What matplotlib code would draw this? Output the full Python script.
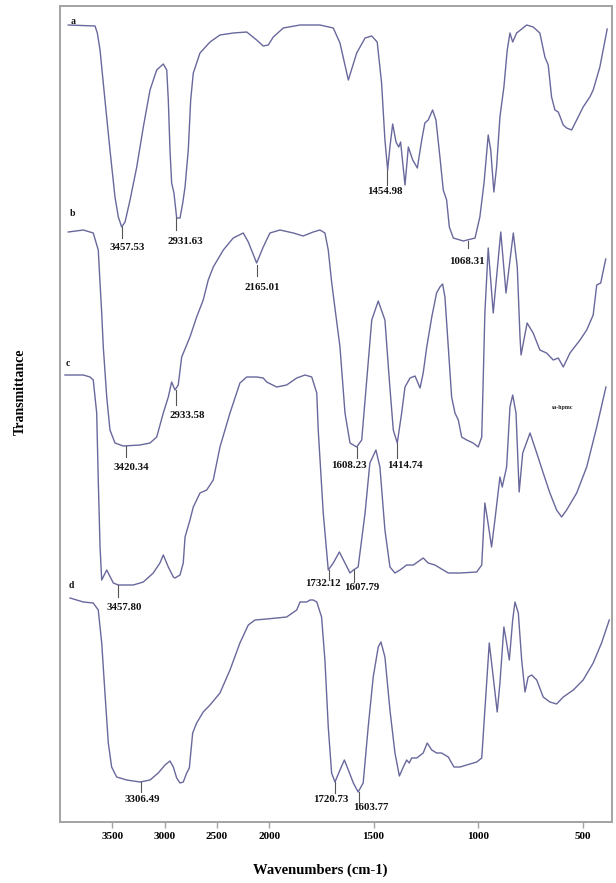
import numpy as np
import matplotlib
matplotlib.use("Agg")
import matplotlib.pyplot as plt

# ---------------- data (wavenumber cm-1, transmittance a.u.) ----------------
a_wn = [3921, 3665, 3643, 3617, 3570, 3522, 3474, 3442, 3410, 3378, 3330, 3266, 3203, 3139, 3075,
        3012, 2979, 2964, 2948, 2932, 2910, 2884, 2852, 2826, 2804, 2773, 2750, 2725, 2661, 2565,
        2470, 2343, 2214, 2119, 2056, 2008, 1980, 1932, 1852, 1757, 1693, 1661, 1621, 1581, 1541,
        1509, 1483, 1462, 1446, 1433, 1422, 1409, 1393, 1380, 1371, 1350, 1334, 1313, 1291, 1270,
        1255, 1239, 1218, 1202, 1183, 1167, 1151, 1138, 1119, 1071, 1015, 992, 972, 952, 940,
        925, 912, 896, 877, 861, 848, 835, 816, 768, 737, 705, 681, 665, 649, 633,
        617, 593, 577, 553, 529, 498, 466, 450, 418, 383]
a_t = [797, 796, 789, 772, 722, 672, 625, 605, 595, 600, 622, 655, 695, 732, 752,
       758, 752, 722, 672, 639, 629, 604, 604, 619, 635, 672, 722, 749, 769, 780,
       787, 789, 790, 782, 776, 777, 785, 794, 797, 797, 794, 779, 742, 769, 784,
       786, 780, 739, 682, 652, 675, 698, 680, 675, 680, 637, 675, 662, 654, 682,
       699, 702, 712, 702, 665, 632, 622, 595, 584, 581, 584, 605, 639, 687, 672,
       630, 655, 705, 735, 772, 789, 780, 789, 797, 795, 789, 765, 757, 725, 712,
       710, 697, 694, 692, 702, 715, 725, 732, 755, 793]

b_wn = [3921, 3777, 3682, 3634, 3617, 3601, 3586, 3553, 3522, 3474, 3395, 3235, 3139, 3075, 3012,
        2964, 2932, 2900, 2869, 2836, 2757, 2693, 2630, 2582, 2534, 2438, 2343, 2247, 2199, 2119,
        2056, 1996, 1948, 1884, 1837, 1789, 1757, 1733, 1717, 1702, 1690, 1661, 1637, 1613, 1581,
        1557, 1533, 1509, 1478, 1446, 1425, 1406, 1387, 1366, 1350, 1326, 1302, 1278, 1263, 1246,
        1222, 1199, 1183, 1170, 1159, 1143, 1127, 1111, 1095, 1079, 1055, 1024, 1000, 983, 976,
        968, 952, 928, 892, 867, 832, 813, 800, 795, 766, 737, 705, 673, 641, 617,
        593, 561, 513, 481, 450, 433, 414, 390]
b_t = [590, 592, 589, 572, 539, 509, 475, 425, 392, 379, 376, 377, 379, 385, 409,
       425, 440, 432, 437, 465, 485, 505, 522, 542, 555, 572, 584, 589, 580, 559,
       575, 589, 592, 589, 586, 590, 592, 589, 572, 542, 522, 475, 409, 379, 375,
       382, 442, 502, 521, 502, 442, 392, 379, 409, 435, 444, 446, 434, 449, 475,
       505, 529, 535, 538, 525, 475, 425, 409, 402, 385, 382, 379, 375, 385, 442,
       509, 574, 509, 590, 529, 589, 555, 485, 467, 499, 489, 472, 469, 462, 464,
       455, 469, 482, 492, 507, 537, 539, 563]

c_wn = [3952, 3777, 3713, 3682, 3649, 3634, 3617, 3601, 3553, 3490, 3442, 3299, 3203, 3108, 3044,
        3012, 2964, 2916, 2900, 2852, 2821, 2804, 2757, 2725, 2661, 2597, 2534, 2470, 2374, 2279,
        2214, 2119, 2056, 2023, 1964, 1916, 1868, 1828, 1796, 1772, 1765, 1741, 1717, 1693, 1664,
        1637, 1613, 1597, 1574, 1541, 1518, 1489, 1470, 1446, 1422, 1398, 1374, 1342, 1310, 1263,
        1239, 1207, 1167, 1143, 1087, 1007, 983, 968, 955, 936, 920, 896, 885, 864, 848,
        835, 819, 804, 787, 752, 720, 689, 657, 625, 601, 577, 529, 481, 433, 389]
c_t = [447, 447, 445, 442, 409, 342, 275, 242, 252, 239, 237, 237, 240, 249, 259,
       267, 255, 245, 244, 247, 259, 285, 302, 315, 329, 332, 342, 375, 409, 439,
       445, 445, 444, 440, 435, 437, 444, 447, 445, 429, 392, 309, 252, 259, 270,
       259, 249, 252, 255, 309, 359, 372, 355, 292, 255, 249, 252, 257, 257, 264,
       259, 257, 252, 249, 249, 250, 257, 319, 302, 275, 302, 345, 335, 355, 415,
       427, 409, 330, 369, 389, 369, 349, 329, 312, 305, 312, 329, 355, 395, 435]

d_wn = [3904, 3777, 3682, 3634, 3601, 3570, 3538, 3506, 3458, 3362, 3235, 3139, 3060, 2996, 2948,
        2916, 2884, 2852, 2821, 2788, 2763, 2731, 2693, 2630, 2565, 2470, 2374, 2279, 2199, 2135,
        2023, 1964, 1916, 1868, 1852, 1820, 1804, 1789, 1772, 1749, 1733, 1717, 1701, 1685, 1661,
        1640, 1621, 1597, 1574, 1550, 1526, 1502, 1478, 1465, 1446, 1422, 1398, 1377, 1358, 1342,
        1330, 1318, 1294, 1263, 1244, 1222, 1199, 1175, 1143, 1116, 1087, 1039, 1007, 983, 968,
        947, 928, 909, 896, 877, 864, 851, 835, 824, 808, 792, 776, 761, 744, 720,
        689, 657, 625, 593, 545, 498, 450, 410, 373]
d_t = [224, 220, 219, 212, 179, 129, 79, 55, 45, 42, 40, 42, 49, 57, 61,
       55, 44, 39, 40, 49, 54, 89, 99, 110, 117, 129, 152, 179, 197, 202,
       203, 204, 205, 212, 220, 220, 222, 222, 220, 205, 162, 95, 49, 40, 52,
       62, 52, 39, 30, 39, 95, 145, 175, 180, 165, 112, 69, 46, 55, 62,
       59, 64, 64, 69, 79, 72, 69, 69, 65, 55, 55, 58, 60, 64, 112,
       179, 145, 110, 139, 195, 179, 162, 202, 220, 209, 162, 130, 145, 147, 142,
       125, 120, 118, 125, 132, 142, 159, 179, 202]

curve_names = ["a", "b", "c", "d"]
name_wn = [3876, 3876, 3923, 3895]
name_t = [801, 609, 459, 237]

# peak labels: text, wavenumber of marker, transmittance at top of marker
peak_text = ["3457.53", "2931.63", "1454.98", "1068.31",
             "3420.34", "2933.58", "2165.01", "1608.23", "1414.74",
             "3457.80", "1732.12", "1607.79",
             "3306.49", "1720.73", "1603.77"]
peak_wn = [3410, 2891, 1435, 1050,
           3369, 2893, 2113, 1581, 1387,
           3442, 1712, 1594,
           3228, 1685, 1569]
peak_t = [595, 604, 652, 581,
          376, 432, 557, 375, 379,
          237, 252, 252,
          40, 40, 30]

xticks = [3500, 3000, 2500, 2000, 1500, 1000, 500]

# ---------------- layout / style ----------------
peak_tick_len = [11, 12, 15, 7, 11, 15, 11, 11, 15, 12, 10, 12, 10, 11, 11]
peak_text_dx = [6, 9, -2, -1, 5, 12, 5, -8, 8, 6, -6, 8, 2, -4, 12]
peak_text_dy = [10, 11, 6, 14, 11, 10, 11, 7, 7, 10, 3, 5, 7, 7, 5]

line_color = "#68689c"
frame_color = "#a3a3a3"
serif = ["Liberation Serif", "DejaVu Serif"]


def fwd(w):
    w = np.asarray(w, dtype=float)
    return np.where(w > 2000, 2000 + (w - 2000) * 0.5, w)


def inv(f):
    f = np.asarray(f, dtype=float)
    return np.where(f > 2000, 2000 + (f - 2000) * 2.0, f)


fig = plt.figure(figsize=(6.16, 8.83), dpi=100)
ax = fig.add_axes([60 / 616, 61 / 883, 552 / 616, 816 / 883])
ax.set_xscale("function", functions=(fwd, inv))
ax.set_xlim(4000, 360)
ax.set_ylim(0, 816)

for wn, t in [(a_wn, a_t), (b_wn, b_t), (c_wn, c_t), (d_wn, d_t)]:
    ax.plot(wn, t, color=line_color, lw=1.0, solid_joinstyle="round")

for name, x, y in zip(curve_names, name_wn, name_t):
    ax.text(x, y, name, fontsize=7, fontweight="bold", family=serif,
            ha="center", va="center", color="#111111")

for txt, w, t, L, dx, dy in zip(peak_text, peak_wn, peak_t, peak_tick_len,
                                 peak_text_dx, peak_text_dy):
    ax.plot([w, w], [t, t - L], color="#555555", lw=0.8)
    ax.annotate(txt, xy=(w, t - L), xytext=(dx, -dy), textcoords="offset pixels",
                ha="center", va="center", fontsize=7.8, fontweight="bold",
                family=serif, color="#111111")

ax.text(595, 415, "sa-hpmc", fontsize=4.3, fontweight="bold", family=serif,
        ha="center", va="center", color="#222222")

ax.set_xticks(xticks)
ax.set_xticklabels([str(v) for v in xticks])
ax.set_yticks([])
ax.tick_params(axis="x", direction="out", length=4, width=1, color=frame_color,
               pad=3.5, labelsize=8)
for lab in ax.get_xticklabels():
    lab.set_family(serif)
    lab.set_fontweight("bold")
for sp in ax.spines.values():
    sp.set_color(frame_color)
    sp.set_linewidth(1.4)

fig.text(320 / 616, 1 - 870 / 883, "Wavenumbers (cm-1)", ha="center", va="center",
         fontsize=10.5, fontweight="bold", family=serif)
fig.text(20 / 616, 1 - 392 / 883, "Transmittance", ha="center", va="center",
         rotation=90, fontsize=10, fontweight="bold", family=serif)

fig.savefig("out.png", dpi=100)
